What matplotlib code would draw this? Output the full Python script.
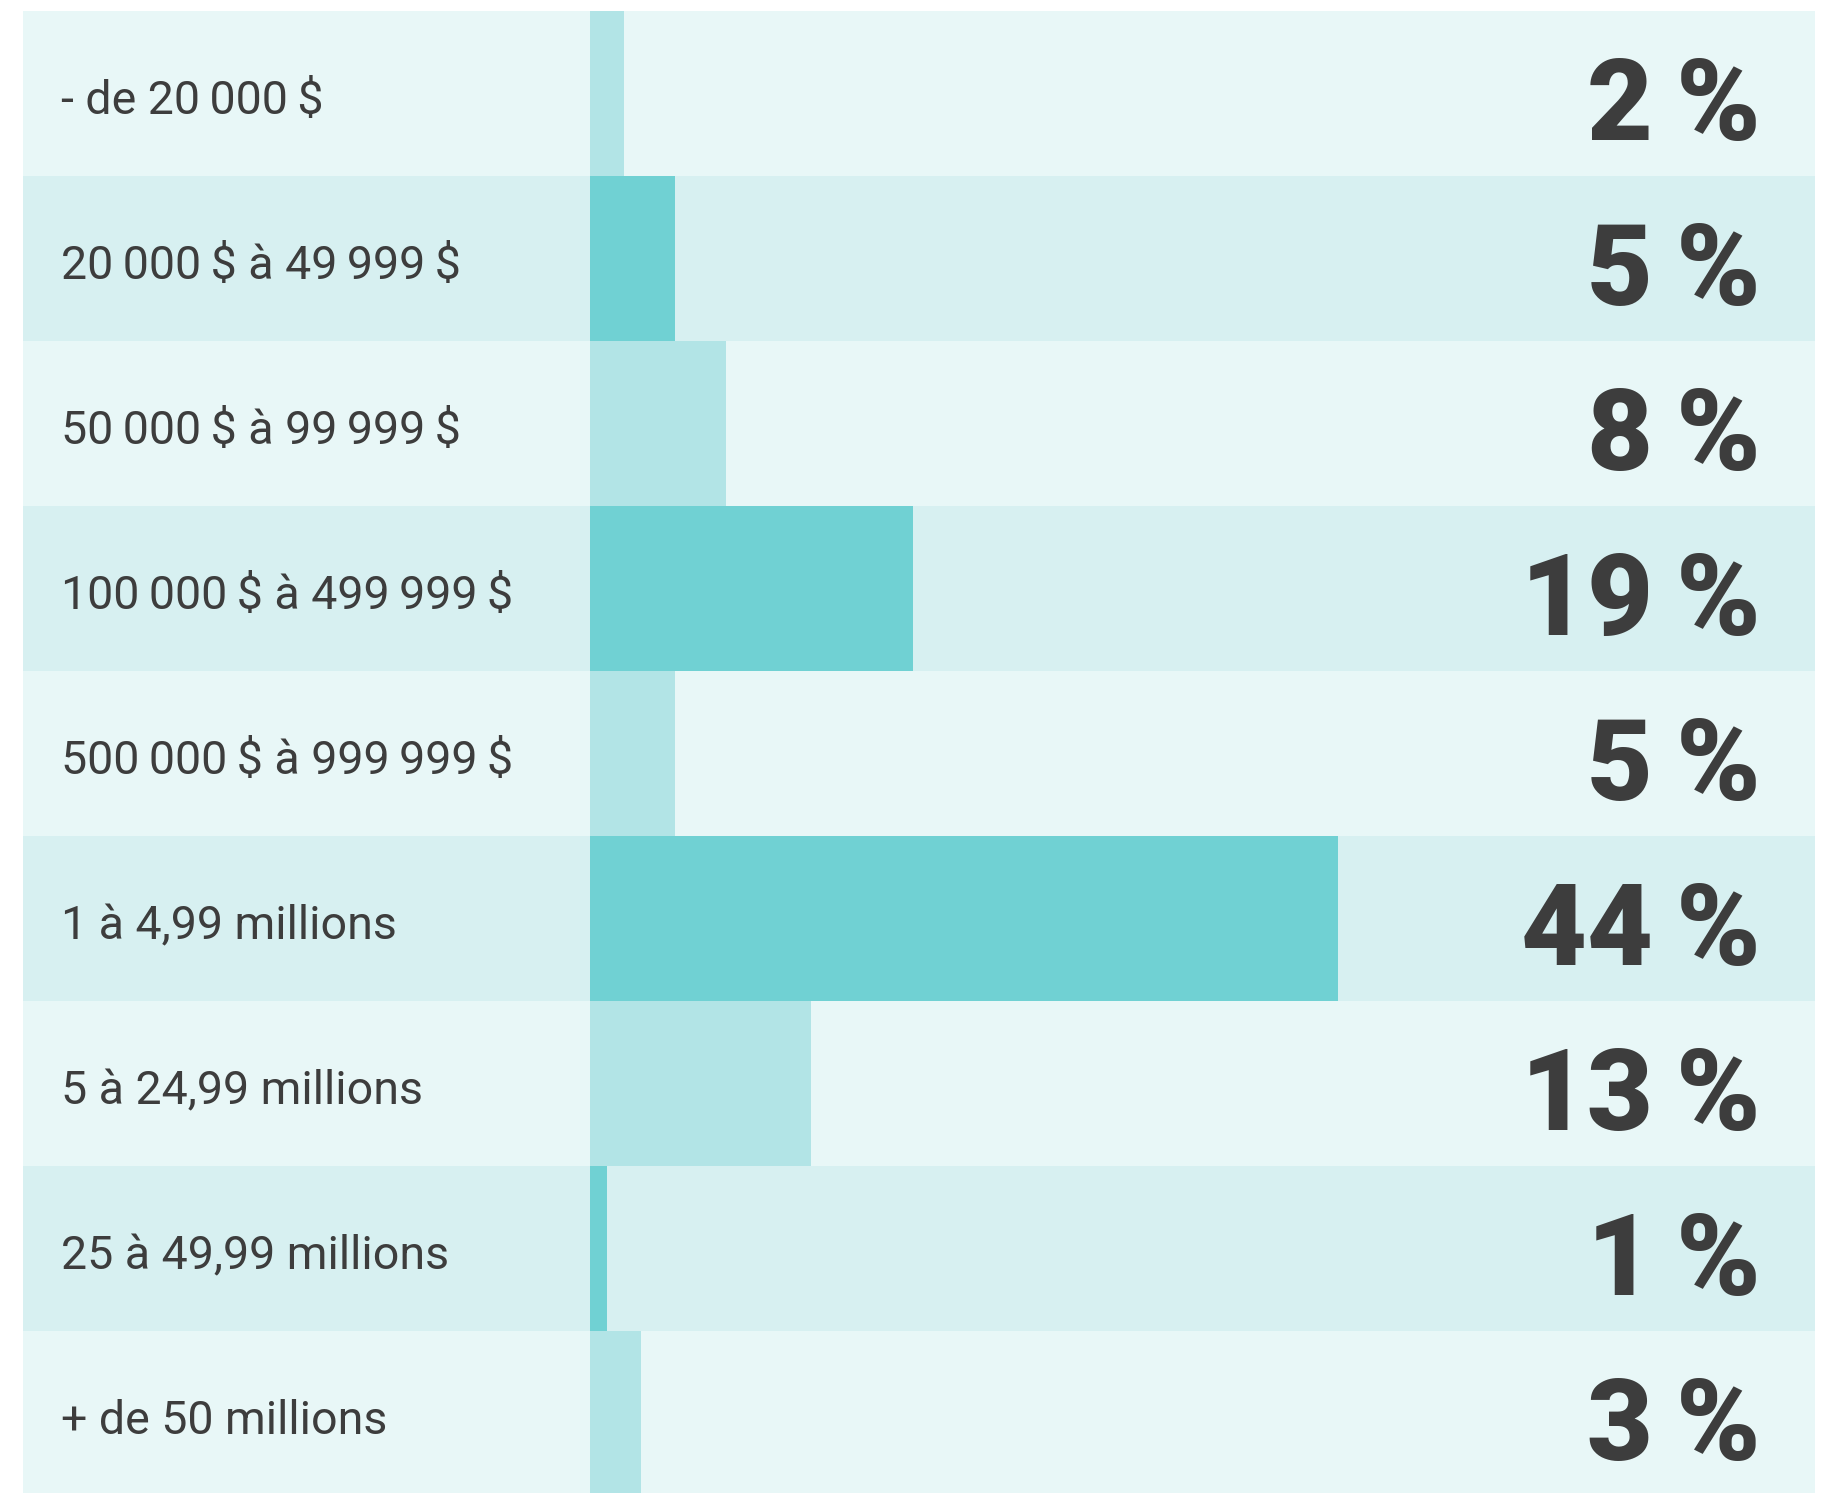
import matplotlib
matplotlib.use('Agg')
import matplotlib.pyplot as plt

# data (thin spaces as in the French typography)
categories = ['- de 20\u2009000\u2009$', '20\u2009000\u2009$ à 49\u2009999\u2009$',
              '50\u2009000\u2009$ à 99\u2009999\u2009$', '100\u2009000\u2009$ à 499\u2009999\u2009$',
              '500\u2009000\u2009$ à 999\u2009999\u2009$', '1 à 4,99 millions',
              '5 à 24,99 millions', '25 à 49,99 millions', '+ de 50 millions']
values = [2, 5, 8, 19, 5, 44, 13, 1, 3]
value_labels = ['2\u2009%', '5\u2009%', '8\u2009%', '19\u2009%', '5\u2009%',
                '44\u2009%', '13\u2009%', '1\u2009%', '3\u2009%']

row_colors = ['#E8F7F7', '#D7F0F1']
bar_colors = ['#B2E4E6', '#70D1D3']
text_color = '#3D3D3D'

W, H = 1829, 1493
fig = plt.figure(figsize=(W / 100, H / 100), dpi=100)
fig.patch.set_facecolor('white')

# rows start 11px from top, ~165px tall; 17px per percent
row_h = 165
top = 11
ax = fig.add_axes([23 / W, (H - top - 9 * row_h) / H, (1815 - 23) / W, 9 * row_h / H])
xmin = -(590 - 23) / 17
xmax = (1815 - 590) / 17
ax.set_xlim(xmin, xmax)
ax.set_ylim(len(categories), 0)
ax.axis('off')

for i, (cat, val, lab) in enumerate(zip(categories, values, value_labels)):
    y = i + 0.5
    ax.barh(y, xmax - xmin, left=xmin, height=1.0, color=row_colors[i % 2], linewidth=0)
    ax.barh(y, val, left=0, height=1.0, color=bar_colors[i % 2], linewidth=0)
    ax.text(-31.1, y + 0.02, cat, ha='left', va='center_baseline', fontsize=33.5,
            family=['Roboto', 'DejaVu Sans'], color=text_color, parse_math=False)
    ax.text(68.85, y + 0.025, lab, ha='right', va='center_baseline', fontsize=82,
            family=['Roboto', 'DejaVu Sans'], fontweight='black', color=text_color,
            parse_math=False)

fig.savefig('out.png', dpi=100, facecolor='white')
